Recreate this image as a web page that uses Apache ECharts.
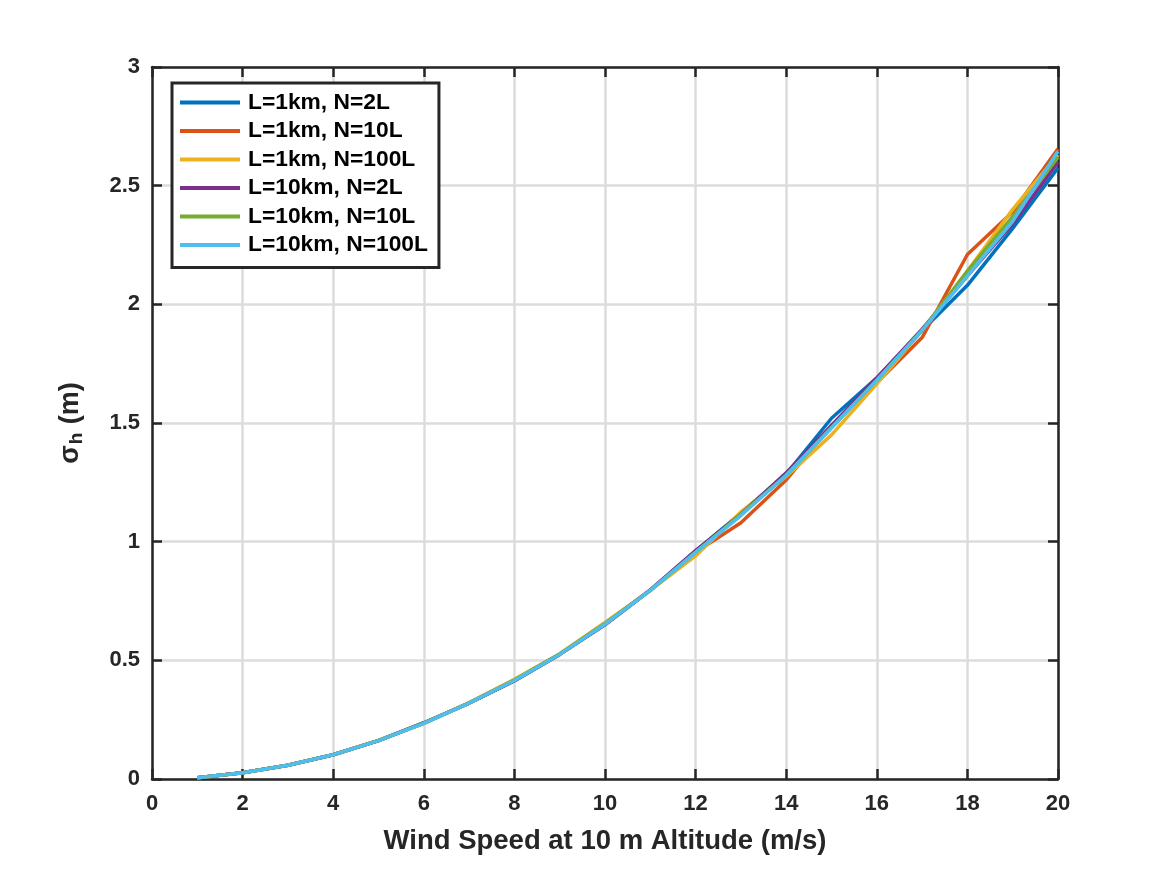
<!DOCTYPE html>
<html>
<head>
<meta charset="utf-8">
<script src="https://cdn.jsdelivr.net/npm/echarts@6/dist/echarts.min.js"></script>
<style>
  html, body { margin: 0; padding: 0; background: #fff; }
  #main { width: 1167px; height: 875px; }
</style>
</head>
<body>
<div id="main"></div>
<script>
// wind speed at 10 m (m/s)
const windSpeed = [1, 2, 3, 4, 5, 6, 7, 8, 9, 10, 11, 12, 13, 14, 15, 16, 17, 18, 19, 20];

// sigma_h (m) per run
const l1N2 = [0.005, 0.026, 0.058, 0.102, 0.162, 0.237, 0.32, 0.413, 0.525, 0.65, 0.795, 0.96, 1.12, 1.285, 1.52, 1.69, 1.89, 2.08, 2.32, 2.575];
const l1N10 = [0.005, 0.026, 0.058, 0.102, 0.162, 0.235, 0.32, 0.415, 0.525, 0.652, 0.795, 0.955, 1.08, 1.26, 1.49, 1.67, 1.86, 2.21, 2.39, 2.655];
const l1N100 = [0.005, 0.026, 0.058, 0.102, 0.164, 0.233, 0.322, 0.42, 0.528, 0.66, 0.795, 0.94, 1.125, 1.275, 1.45, 1.665, 1.89, 2.14, 2.4, 2.63];
const l10N2 = [0.005, 0.026, 0.058, 0.102, 0.162, 0.236, 0.32, 0.415, 0.525, 0.652, 0.797, 0.962, 1.115, 1.29, 1.49, 1.69, 1.895, 2.12, 2.34, 2.6];
const l10N10 = [0.005, 0.026, 0.058, 0.102, 0.162, 0.235, 0.32, 0.417, 0.527, 0.655, 0.795, 0.955, 1.115, 1.28, 1.48, 1.68, 1.89, 2.14, 2.37, 2.62];
const l10N100 = [0.005, 0.026, 0.058, 0.102, 0.162, 0.234, 0.32, 0.415, 0.525, 0.652, 0.795, 0.955, 1.11, 1.28, 1.48, 1.68, 1.89, 2.12, 2.35, 2.645];

const seriesNames = ['L=1km, N=2L', 'L=1km, N=10L', 'L=1km, N=100L', 'L=10km, N=2L', 'L=10km, N=10L', 'L=10km, N=100L'];
const seriesValues = [l1N2, l1N10, l1N100, l10N2, l10N10, l10N100];
const colors = ['#0072BD', '#D95319', '#EDB120', '#7E2F8E', '#77AC30', '#4DBEEE'];

const textColor = '#262626';
const fontFamily = 'Arial, "Liberation Sans", Helvetica, sans-serif';

var myChart = echarts.init(document.getElementById('main'));

const axisCommon = {
    axisLine: { show: true, onZero: false, lineStyle: { color: textColor, width: 2.5 } },
    axisTick: { show: true, inside: true, length: 10, lineStyle: { color: textColor, width: 2.5 } },
};

const series = seriesValues.map((vals, i) => ({
    name: seriesNames[i],
    type: 'line',
    showSymbol: false,
    symbol: 'none',
    lineStyle: { width: 3.5, color: colors[i] },
    itemStyle: { color: colors[i] },
    data: windSpeed.map((w, j) => [w, vals[j]]),
    z: 3 + i
}));

myChart.setOption({
    animation: false,
    color: colors,
    grid: { left: 152, right: 109, top: 67, bottom: 96, containLabel: false },
    legend: {
        orient: 'vertical',
        left: 172,
        top: 83,
        backgroundColor: '#fff',
        borderColor: textColor,
        borderWidth: 3,
        padding: [8, 11, 11, 8],
        itemGap: 5.5,
        itemWidth: 60,
        itemHeight: 4,
        icon: 'rect',
        textStyle: { fontFamily, fontWeight: 'bold', fontSize: 22.8, color: '#000', padding: [0, 0, 0, 3] },
        data: seriesNames
    },
    xAxis: [
        Object.assign({
            type: 'value',
            min: 0, max: 20, interval: 2,
            name: 'Wind Speed at 10 m Altitude (m/s)',
            nameLocation: 'middle',
            nameGap: 48,
            nameTextStyle: { fontFamily, fontWeight: 'bold', fontSize: 27.5, color: textColor },
            axisLabel: { fontFamily, fontWeight: 'bold', fontSize: 22, color: textColor, margin: 14 },
            splitLine: { show: true, lineStyle: { color: '#dcdcdc', width: 2.5 } }
        }, axisCommon),
        Object.assign({
            type: 'value', position: 'top',
            min: 0, max: 20, interval: 2,
            axisLabel: { show: false },
            splitLine: { show: false }
        }, axisCommon)
    ],
    yAxis: [
        Object.assign({
            type: 'value',
            min: 0, max: 3, interval: 0.5,
            name: '{s|σ}{sub|h}{s| (m)}',
            nameLocation: 'middle',
            nameGap: 66,
            nameRotate: 90,
            nameTextStyle: {
                rich: {
                    s: { fontFamily, fontWeight: 'bold', fontSize: 27, color: textColor },
                    sub: { fontFamily, fontWeight: 'bold', fontSize: 19, color: textColor, verticalAlign: 'bottom', padding: [12, 1, 0, 1] }
                }
            },
            axisLabel: { fontFamily, fontWeight: 'bold', fontSize: 22, color: textColor, margin: 12 },
            splitLine: { show: true, lineStyle: { color: '#dcdcdc', width: 2.5 } }
        }, axisCommon),
        Object.assign({
            type: 'value', position: 'right',
            min: 0, max: 3, interval: 0.5,
            axisLabel: { show: false },
            splitLine: { show: false }
        }, axisCommon)
    ],
    series: series
});
</script>
</body>
</html>
